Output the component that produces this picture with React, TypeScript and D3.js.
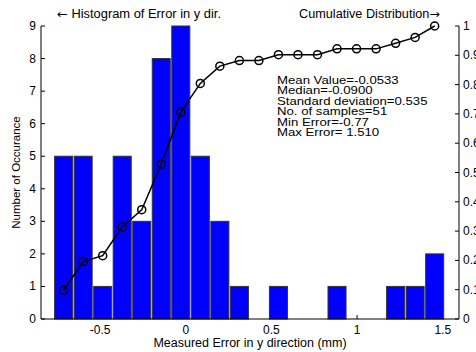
import React from "react";
import * as d3 from "d3";

const binCenters = [-0.713, -0.599, -0.485, -0.371, -0.257, -0.143, -0.029, 0.085, 0.199, 0.313, 0.427, 0.541, 0.655, 0.769, 0.883, 0.997, 1.111, 1.225, 1.339, 1.453];
const counts = [5, 5, 1, 5, 3, 8, 9, 5, 3, 1, 0, 1, 0, 0, 1, 0, 0, 1, 1, 2];
const cumulative = [0.098, 0.196, 0.216, 0.314, 0.373, 0.529, 0.706, 0.804, 0.863, 0.882, 0.882, 0.902, 0.902, 0.902, 0.922, 0.922, 0.922, 0.941, 0.961, 1.0];
const binWidth = 0.114;
const xTicks = [-0.5, 0, 0.5, 1, 1.5];
const xTickLabels = ["-0.5", "0", "0.5", "1", "1.5"];
const yLeftTicks = [0, 1, 2, 3, 4, 5, 6, 7, 8, 9];
const yRightTicks = [0, 0.1, 0.2, 0.3, 0.4, 0.5, 0.6, 0.7, 0.8, 0.9, 1];
const yRightLabels = ["0", "0.1", "0.2", "0.3", "0.4", "0.5", "0.6", "0.7", "0.8", "0.9", "1"];
const statsLines = [
  "Mean Value=-0.0533",
  "Median=-0.0900",
  "Standard deviation=0.535",
  "No. of samples=51",
  "Min Error=-0.77",
  "Max Error= 1.510",
];

const FONT = "'Liberation Sans', Arial, Helvetica, sans-serif";
const ARROW_FONT = "'DejaVu Sans', sans-serif";

export default function App() {
  const W = 476, H = 352;
  const left = 41, right = 459, top = 26, bottom = 319;
  const x = d3.scaleLinear().domain([-0.845, 1.595]).range([left, right]);
  const yL = d3.scaleLinear().domain([0, 9]).range([bottom, top]);
  const yR = d3.scaleLinear().domain([0, 1]).range([bottom, top]);
  const barW = x(binWidth) - x(0) - 1.5;
  const line = d3.line<number>().x((_, i) => x(binCenters[i])).y((d) => yR(d));
  const tl = 4;
  const fs = 12;

  return (
    <svg width={W} height={H} style={{ position: "absolute", left: 0, top: 0, background: "#fff" }} fontFamily={FONT}>
      <rect x={0} y={0} width={W} height={H} fill="#fff" />
      {/* ticks */}
      <g stroke="#000" strokeWidth={1}>
        {xTicks.map((t) => (
          <line key={"xt" + t} x1={x(t)} x2={x(t)} y1={bottom} y2={bottom - tl} />
        ))}
        {yLeftTicks.map((t) => (
          <line key={"yl" + t} x1={left} x2={left + tl} y1={yL(t)} y2={yL(t)} />
        ))}
        {yRightTicks.map((t) => (
          <line key={"yr" + t} x1={right} x2={right - tl} y1={yR(t)} y2={yR(t)} />
        ))}
      </g>
      {/* bars */}
      {counts.map((c, i) =>
        c > 0 ? (
          <rect
            key={"b" + i}
            x={x(binCenters[i]) - barW / 2}
            y={yL(c)}
            width={barW}
            height={yL(0) - yL(c)}
            fill="#0000ff"
            stroke="#333"
            strokeWidth={1}
          />
        ) : null
      )}
      {/* axes lines */}
      <g stroke="#000" strokeWidth={1} fill="none">
        <line x1={left} x2={left} y1={top} y2={bottom} />
        <line x1={right} x2={right} y1={top} y2={bottom} />
        <line x1={left} x2={right} y1={bottom} y2={bottom} />
      </g>
      {/* cumulative line */}
      <path d={line(cumulative) || ""} fill="none" stroke="#000" strokeWidth={1.5} />
      {cumulative.map((v, i) => (
        <circle key={"c" + i} cx={x(binCenters[i])} cy={yR(v)} r={4} fill="none" stroke="#000" strokeWidth={1.5} />
      ))}
      {/* tick labels */}
      <g fontSize={fs} fill="#000">
        {xTicks.map((t, i) => (
          <text key={"xl" + t} x={x(t)} y={bottom + 15} textAnchor="middle">{xTickLabels[i]}</text>
        ))}
        {yLeftTicks.map((t) => (
          <text key={"yll" + t} x={left - 5} y={yL(t) + 4} textAnchor="end">{t}</text>
        ))}
        {yRightTicks.map((t, i) => (
          <text key={"yrl" + t} x={right + 4} y={yR(t) + 4} textAnchor="start">{yRightLabels[i]}</text>
        ))}
      </g>
      {/* titles */}
      <text x={57} y={18} fontSize={12} fill="#000" textLength={164} lengthAdjust="spacingAndGlyphs">
        <tspan fontFamily={ARROW_FONT}>←</tspan> Histogram of Error in y dir.
      </text>
      <text x={299} y={18} fontSize={12} fill="#000" textLength={141} lengthAdjust="spacingAndGlyphs">
        Cumulative Distribution<tspan fontFamily={ARROW_FONT}>→</tspan>
      </text>
      <text x={250} y={347} fontSize={12.5} fill="#000" textAnchor="middle">Measured Error in y direction (mm)</text>
      <text transform={`translate(20,${(top + bottom) / 2}) rotate(-90)`} fontSize={11.5} fill="#000" textAnchor="middle">Number of Occurance</text>
      {/* stats */}
      <g fontSize={11} fill="#000" transform="translate(277,0) scale(1.2,1)">
        {statsLines.map((s, i) => (
          <text key={"s" + i} x={0} y={84 + i * 10.4}>{s}</text>
        ))}
      </g>
    </svg>
  );
}
